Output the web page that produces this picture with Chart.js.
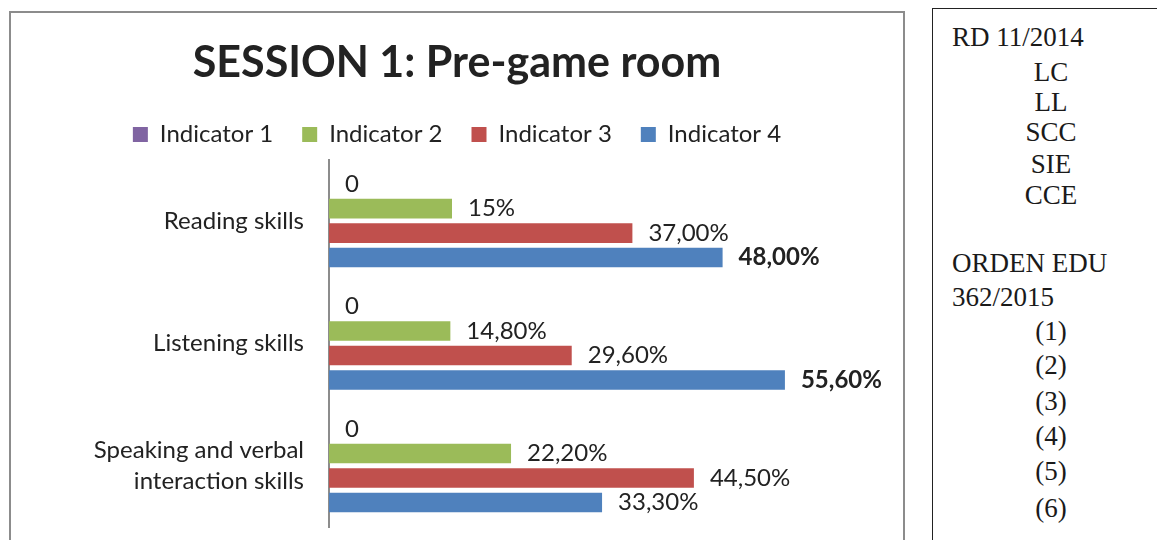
<!DOCTYPE html>
<html lang="en">

<head>
  <meta charset="UTF-8" />
  <title>SESSION 1: Pre-game room</title>
  <script src="https://cdn.jsdelivr.net/npm/chart.js"></script>
  <style>
    body {
      margin: 0;
      background: #fff;
      width: 1157px;
      height: 540px;
      overflow: hidden;
      position: relative;
    }

    #chartBox {
      position: absolute;
      left: 9px;
      top: 11px;
      width: 896px;
      height: 560px;
      border: 2px solid #8c8c8c;
      box-sizing: border-box;
    }

    #chartWrap {
      position: relative;
      width: 892px;
      height: 536px;
    }

    #side {
      position: absolute;
      left: 932px;
      top: 8px;
      width: 260px;
      height: 560px;
      border: 1.5px solid #222;
      font-family: "Liberation Serif", serif;
      font-size: 27px;
      color: #1a1a1a;
    }

    #side div {
      position: absolute;
      line-height: 30px;
      white-space: nowrap;
    }

    #side .l { left: 19px; }
    #side .c { left: 0; width: 236px; text-align: center; }
  </style>
</head>

<body>
  <div id="chartBox">
    <div id="chartWrap"><canvas id="session1"></canvas></div>
  </div>

  <div id="side">
    <div class="l" style="top: 13px">RD 11/2014</div>
    <div class="c" style="top: 48px">LC</div>
    <div class="c" style="top: 78px">LL</div>
    <div class="c" style="top: 108px">SCC</div>
    <div class="c" style="top: 140px">SIE</div>
    <div class="c" style="top: 171px">CCE</div>
    <div class="l" style="top: 239px">ORDEN EDU</div>
    <div class="l" style="top: 273px">362/2015</div>
    <div class="c" style="top: 307px">(1)</div>
    <div class="c" style="top: 341px">(2)</div>
    <div class="c" style="top: 377px">(3)</div>
    <div class="c" style="top: 412px">(4)</div>
    <div class="c" style="top: 447px">(5)</div>
    <div class="c" style="top: 484px">(6)</div>
  </div>

  <script>
    // categories (top to bottom)
    const categories = [
      'Reading skills',
      'Listening skills',
      ['Speaking and verbal', 'interaction skills']
    ];
    const seriesNames = ['Indicator 1', 'Indicator 2', 'Indicator 3', 'Indicator 4'];

    // values in %
    const indicator1 = [0, 0, 0];
    const indicator2 = [15, 14.8, 22.2];
    const indicator3 = [37, 29.6, 44.5];
    const indicator4 = [48, 55.6, 33.3];

    // labels as written on the chart
    const labels1 = ['0', '0', '0'];
    const labels2 = ['15%', '14,80%', '22,20%'];
    const labels3 = ['37,00%', '29,60%', '44,50%'];
    const labels4 = ['48,00%', '55,60%', '33,30%'];

    // Office 2007 colours
    const colors = ['#8064A2', '#9BBB59', '#C0504D', '#4F81BD'];

    const values = [indicator1, indicator2, indicator3, indicator4];
    const valueLabels = [labels1, labels2, labels3, labels4];
    // these two labels are bold in the original
    const boldLabels = { 3: [0, 1] };

    const textColor = '#222';
    const fontFamily = 'Lato, "Open Sans", sans-serif';

    // draw the value text right of each bar
    const barValueLabels = {
      id: 'barValueLabels',
      afterDatasetsDraw(chart) {
        const ctx = chart.ctx;
        ctx.save();
        ctx.textAlign = 'left';
        ctx.textBaseline = 'middle';
        ctx.fillStyle = textColor;
        chart.data.datasets.forEach((ds, di) => {
          chart.getDatasetMeta(di).data.forEach((bar, i) => {
            const bold = (boldLabels[di] || []).includes(i);
            ctx.font = (bold ? 'bold ' : '') + '24px ' + fontFamily;
            ctx.fillText(valueLabels[di][i], bar.x + 16, bar.y);
          });
        });
        ctx.restore();
      }
    };

    // a bit more room under the legend
    const legendGap = {
      id: 'legendGap',
      beforeInit(chart) {
        const fit = chart.legend.fit;
        chart.legend.fit = function () {
          fit.bind(chart.legend)();
          this.height += 3;
        };
      }
    };

    const chart = new Chart(document.getElementById('session1'), {
      type: 'bar',
      data: {
        labels: categories,
        datasets: seriesNames.map((name, i) => ({
          label: name,
          data: values[i],
          backgroundColor: colors[i],
          borderWidth: 0,
          categoryPercentage: 0.8,
          barPercentage: 0.8
        }))
      },
      options: {
        indexAxis: 'y',
        responsive: true,
        maintainAspectRatio: false,
        animation: false,
        layout: { padding: { top: 0, right: 0, bottom: 22, left: 0 } },
        plugins: {
          title: {
            display: true,
            text: 'SESSION 1: Pre-game room',
            color: textColor,
            font: { family: fontFamily, size: 43, weight: 'bold' },
            padding: { top: 24, bottom: 5 }
          },
          legend: {
            position: 'top',
            labels: {
              boxWidth: 15,
              boxHeight: 15,
              padding: 29,
              color: textColor,
              font: { family: fontFamily, size: 24 }
            }
          },
          tooltip: { enabled: false }
        },
        scales: {
          x: { display: false, min: 0, max: 70 },
          y: {
            grid: { display: false, drawTicks: false },
            border: { display: true, color: '#8c8c8c', width: 2 },
            ticks: {
              padding: 25,
              color: textColor,
              font: { family: fontFamily, size: 24, lineHeight: 1.3 }
            },
            afterFit(scale) {
              scale.width = 318;
              // labels sit inside the categories, no extra room needed
              scale.paddingTop = 0;
              scale.paddingBottom = 0;
            }
          }
        }
      },
      plugins: [barValueLabels, legendGap]
    });
  </script>
</body>

</html>
